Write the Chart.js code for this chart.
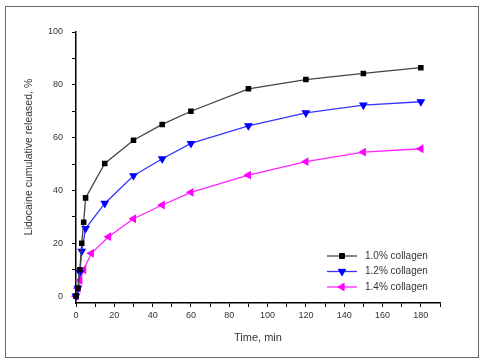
<!DOCTYPE html>
<html>
<head>
<meta charset="utf-8">
<script src="https://cdn.jsdelivr.net/npm/chart.js@4/dist/chart.umd.min.js"></script>
<style>
  body { margin: 0; background: #fff; }
  #wrap { position: relative; width: 481px; height: 361px; }
  #frame { position: absolute; left: 5px; top: 6px; width: 472px; height: 350px; border: 1px solid #666; }
  canvas { position: absolute; left: 0; top: 0; }
</style>
</head>
<body>
<div id="wrap">
  <div id="frame"></div>
  <canvas id="Chart" width="481" height="361"></canvas>
</div>
<script>
// time points (min) and release (%)
let time10 = [0, 1, 2, 3, 4, 5, 15, 30, 45, 60, 90, 120, 150, 180];
let rel10 = [0, 3, 10, 20, 28, 37.2, 50.2, 59, 65, 70, 78.5, 82, 84.3, 86.5];

let time12 = [0, 1, 2, 3, 5, 15, 30, 45, 60, 90, 120, 150, 180];
let rel12 = [0, 3, 9, 17, 25.6, 35.1, 45.6, 52, 57.8, 64.5, 69.4, 72.3, 73.6];

let time14 = [0, 1, 2, 4, 8, 17, 30, 45, 60, 90, 120, 150, 180];
let rel14 = [0, 3, 6, 10, 16.2, 22.5, 29.3, 34.5, 39.3, 45.8, 50.9, 54.5, 55.8];

let seriesNames = ['1.0% collagen', '1.2% collagen', '1.4% collagen'];
let xTicks = [0, 10, 20, 30, 40, 50, 60, 70, 80, 90, 100, 110, 120, 130, 140, 150, 160, 170, 180, 190];
let yTicks = [0, 10, 20, 30, 40, 50, 60, 70, 80, 90, 100];

function pts(xs, ys) {
  return xs.map((x, i) => ({x: x, y: ys[i]}));
}

let tickFont = {family: 'Liberation Sans, Arial, sans-serif', size: 9};

// y title + legend drawn inside the frame
const extras = {
  id: 'extras',
  afterDraw(chart) {
    const ctx = chart.ctx;
    const area = chart.chartArea;
    ctx.save();
    ctx.fillStyle = '#333';
    ctx.font = '10.5px Liberation Sans, Arial, sans-serif';
    ctx.textAlign = 'center';
    ctx.textBaseline = 'middle';
    ctx.translate(29, 157);
    ctx.rotate(-Math.PI / 2);
    ctx.fillText('Lidocaine cumulative released, %', 0, 0);
    ctx.restore();

    ctx.save();
    let x0 = area.right - 113, y0 = area.bottom - 47;
    chart.data.datasets.forEach((ds, i) => {
      let y = y0 + i * 15.5;
      ctx.strokeStyle = ds.borderColor;
      ctx.lineWidth = 1.3;
      ctx.beginPath();
      ctx.moveTo(x0, y);
      ctx.lineTo(x0 + 30, y);
      ctx.stroke();
      ctx.fillStyle = ds.backgroundColor;
      ctx.strokeStyle = ds.pointBorderColor;
      ctx.lineWidth = 1;
      Chart.helpers.drawPoint(ctx, {
        pointStyle: ds.pointStyle, rotation: ds.pointRotation, radius: ds.pointRadius + 0.5,
        borderWidth: 1
      }, x0 + 15, y);
      ctx.fillStyle = '#333';
      ctx.font = '10px Liberation Sans, Arial, sans-serif';
      ctx.textAlign = 'left';
      ctx.textBaseline = 'middle';
      ctx.fillText(ds.label, x0 + 38, y);
    });
    ctx.restore();
  }
};

const ctx = document.getElementById('Chart').getContext('2d');
new Chart(ctx, {
  type: 'scatter',
  data: {
    datasets: [{
      label: seriesNames[0],
      data: pts(time10, rel10),
      showLine: true,
      borderColor: '#444',
      backgroundColor: '#000',
      pointBorderColor: '#000',
      pointStyle: 'rect',
      pointRotation: 0,
      pointRadius: 3,
      borderWidth: 1.3
    }, {
      label: seriesNames[1],
      data: pts(time12, rel12),
      showLine: true,
      borderColor: '#3535ff',
      backgroundColor: '#0000ff',
      pointBorderColor: '#0000ff',
      pointStyle: 'triangle',
      pointRotation: 180,
      pointRadius: 3.8,
      borderWidth: 1.3
    }, {
      label: seriesNames[2],
      data: pts(time14, rel14),
      showLine: true,
      borderColor: '#ff22ff',
      backgroundColor: '#ff00ff',
      pointBorderColor: '#ff00ff',
      pointStyle: 'triangle',
      pointRotation: 270,
      pointRadius: 3.8,
      borderWidth: 1.3
    }]
  },
  options: {
    responsive: false,
    animation: false,
    clip: false,
    layout: {padding: {left: 0, right: 41, top: 32, bottom: 0}},
    plugins: {legend: {display: false}, tooltip: {enabled: false}},
    elements: {line: {tension: 0}},
    scales: {
      x: {
        type: 'linear',
        min: 0,
        max: 190,
        afterBuildTicks: (s) => { s.ticks = xTicks.map(v => ({value: v})); },
        afterFit: (s) => { s.height = 58; },
        ticks: {
          autoSkip: false,
          maxRotation: 0,
          font: tickFont,
          color: '#333',
          padding: 3,
          callback: (v) => (v % 20 === 0 && v <= 180) ? v : ''
        },
        grid: {drawOnChartArea: false, tickLength: 4, tickColor: '#000', tickWidth: 1},
        border: {color: '#000', width: 1.5},
        title: {
          display: true,
          text: 'Time, min',
          color: '#333',
          font: {family: 'Liberation Sans, Arial, sans-serif', size: 11},
          padding: {top: 0, bottom: 16}
        }
      },
      y: {
        min: -2.6,
        max: 100,
        afterBuildTicks: (s) => { s.ticks = yTicks.map(v => ({value: v})); },
        afterFit: (s) => { s.width = 76; },
        ticks: {
          font: tickFont,
          color: '#333',
          padding: 9,
          callback: (v) => (v % 20 === 0) ? v : ''
        },
        grid: {drawOnChartArea: false, tickLength: 4, tickColor: '#000', tickWidth: 1},
        border: {color: '#000', width: 1.5}
      }
    }
  },
  plugins: [extras]
});
</script>
</body>
</html>
